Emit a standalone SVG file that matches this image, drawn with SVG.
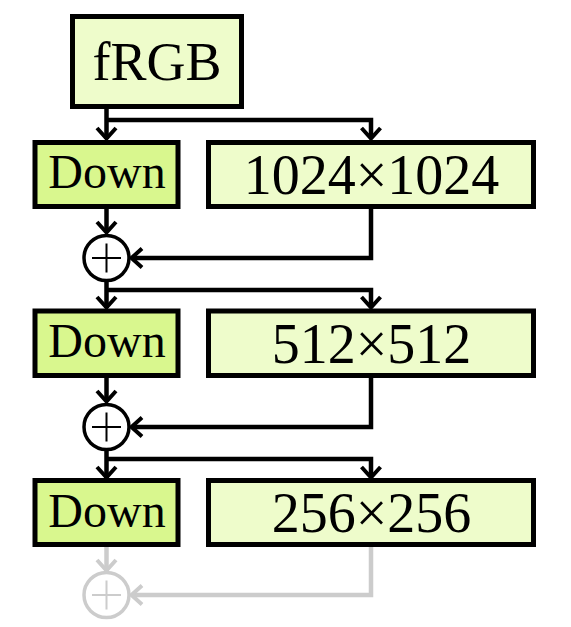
<svg xmlns="http://www.w3.org/2000/svg" width="571" height="627" viewBox="0 0 571 627">
<style>
.box{stroke:#000;stroke-width:5}
.light{fill:#eefccb}
.down{fill:#d9f78e}
.t{font-family:"Liberation Serif","Times New Roman",serif;fill:#000;text-anchor:middle}
.ln{fill:none;stroke:#000;stroke-width:4.5}
.ah{fill:none;stroke:#000;stroke-width:4;stroke-linecap:butt;stroke-linejoin:miter}
.circ{fill:#fff;stroke:#000;stroke-width:3.5}
.plus{stroke:#000;stroke-width:2}
.gray{stroke:#cccccc}
</style>
<rect width="571" height="627" fill="#fff"/>
<g id="connectors">
  <path class="ln" d="M106.5 109 V137 M106.5 120 H371 V137"/>
  <path class="ah" d="M97 128 L106.5 138.5 L116 128 M361.5 128 L371 138.5 L380.5 128"/>
  <path class="ln" d="M106.5 209 V232"/>
  <path class="ah" d="M97 222 L106.5 232.5 L116 222"/>
  <path class="ln" d="M371 209 V258 H132"/>
  <path class="ah" d="M142 248.5 L131.5 258 L142 267.5"/>
  <path class="ln" d="M106.5 281 V306 M106.5 290 H371 V306"/>
  <path class="ah" d="M97 297 L106.5 307.5 L116 297 M361.5 297 L371 307.5 L380.5 297"/>
  <path class="ln" d="M106.5 378 V401"/>
  <path class="ah" d="M97 391 L106.5 401.5 L116 391"/>
  <path class="ln" d="M371 378 V427 H132"/>
  <path class="ah" d="M142 417.5 L131.5 427 L142 436.5"/>
  <path class="ln" d="M106.5 450 V476 M106.5 459 H371 V476"/>
  <path class="ah" d="M97 467 L106.5 477.5 L116 467 M361.5 467 L371 477.5 L380.5 467"/>
  <path class="ln gray" d="M106.5 547 V570"/>
  <path class="ah gray" d="M97 560 L106.5 570.5 L116 560"/>
  <path class="ln gray" d="M371 547 V595 H132"/>
  <path class="ah gray" d="M142 585.5 L131.5 595 L142 604.5"/>
</g>
<g id="fRGB">
  <rect class="box light" x="72.5" y="16.5" width="169" height="90"/>
  <text class="t" x="157" y="80" font-size="54">fRGB</text>
</g>
<g id="down1">
  <rect class="box down" x="35" y="142.5" width="143" height="64"/>
  <text class="t" x="107" y="188" font-size="48">Down</text>
</g>
<g id="res1024">
  <rect class="box light" x="208.5" y="142.5" width="325" height="64"/>
  <text class="t" x="371.5" y="194" font-size="56">1024×1024</text>
</g>
<g id="add1">
  <circle class="circ" cx="106.5" cy="258" r="22.5"/>
  <path class="plus" d="M92 258 H121 M106.5 243.5 V272.5"/>
</g>
<g id="down2">
  <rect class="box down" x="35" y="311" width="143" height="64.5"/>
  <text class="t" x="107" y="357" font-size="48">Down</text>
</g>
<g id="res512">
  <rect class="box light" x="208.5" y="311" width="325" height="64.5"/>
  <text class="t" x="371.5" y="363" font-size="56">512×512</text>
</g>
<g id="add2">
  <circle class="circ" cx="106.5" cy="427" r="22.5"/>
  <path class="plus" d="M92 427 H121 M106.5 412.5 V441.5"/>
</g>
<g id="down3">
  <rect class="box down" x="35" y="480.5" width="143" height="64"/>
  <text class="t" x="107" y="527" font-size="48">Down</text>
</g>
<g id="res256">
  <rect class="box light" x="208.5" y="480.5" width="325" height="64"/>
  <text class="t" x="371.5" y="532" font-size="56">256×256</text>
</g>
<g id="add3">
  <circle class="circ gray" cx="106.5" cy="595" r="22.5"/>
  <path class="plus gray" d="M92 595 H121 M106.5 580.5 V609.5"/>
</g>
</svg>
